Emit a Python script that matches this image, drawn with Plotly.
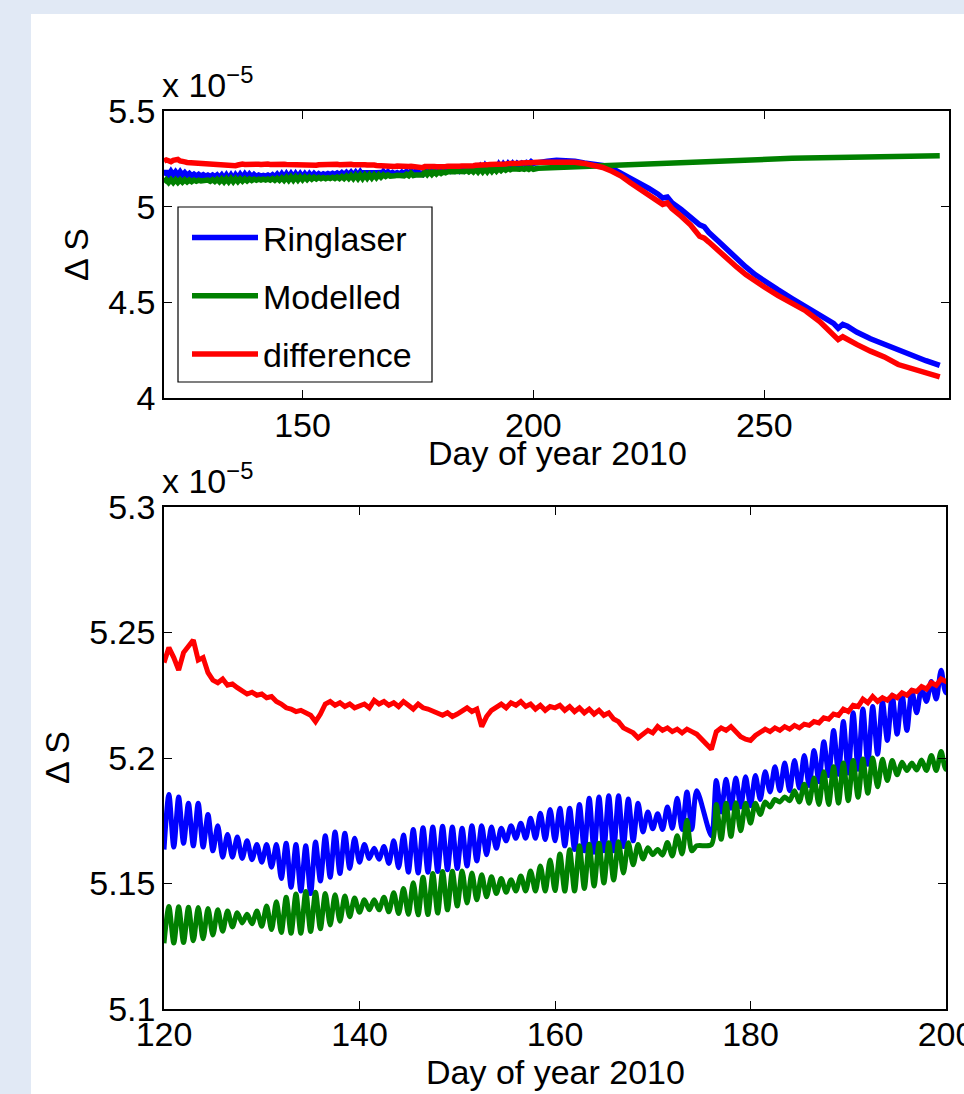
import plotly.graph_objects as go

# ---------------- data (values in units of 1e-5) ----------------
SCALE_EXP = -5
DAY_START = 120.0
DAY_STEP = 0.5   # half-day sampling of the detailed part (day 120 .. 200)

ringlaser_detail = [
    5.1635, 5.1855, 5.1645, 5.1845, 5.1660, 5.1820, 5.1650, 5.1820, 5.1645, 5.1775,
    5.1630, 5.1730, 5.1605, 5.1695, 5.1605, 5.1685, 5.1600, 5.1670, 5.1595, 5.1655,
    5.1585, 5.1655, 5.1565, 5.1655, 5.1520, 5.1660, 5.1485, 5.1655, 5.1470, 5.1650,
    5.1460, 5.1665, 5.1510, 5.1690, 5.1525, 5.1705, 5.1540, 5.1700, 5.1560, 5.1680,
    5.1585, 5.1655, 5.1600, 5.1640, 5.1597, 5.1647, 5.1580, 5.1670, 5.1563, 5.1693,
    5.1545, 5.1715, 5.1542, 5.1722, 5.1545, 5.1725, 5.1548, 5.1728, 5.1555, 5.1725,
    5.1560, 5.1720, 5.1570, 5.1730, 5.1590, 5.1730, 5.1615, 5.1725, 5.1640, 5.1720,
    5.1670, 5.1730, 5.1680, 5.1740, 5.1680, 5.1760, 5.1680, 5.1780, 5.1675, 5.1795,
    5.1670, 5.1800, 5.1650, 5.1800, 5.1635, 5.1815, 5.1630, 5.1840, 5.1625, 5.1845,
    5.1630, 5.1850, 5.1630, 5.1850, 5.1647, 5.1837, 5.1670, 5.1820, 5.1705, 5.1785,
    5.1718, 5.1778, 5.1715, 5.1805, 5.1720, 5.1840, 5.1715, 5.1865, 5.1715, 5.1870,
    None, None, 5.1690, 5.1910, 5.1785, 5.1915, 5.1800, 5.1920, 5.1805, 5.1925,
    5.1810, 5.1930, 5.1835, 5.1945, 5.1865, 5.1965, 5.1870, 5.1980, 5.1870, 5.1990,
    5.1880, 5.2010, 5.1890, 5.2030, 5.1905, 5.2065, 5.1930, 5.2110, 5.1935, 5.2145,
    5.1940, 5.2180, 5.1955, 5.2195, 5.1975, 5.2205, 5.2015, 5.2225, 5.2070, 5.2250,
    5.2095, 5.2255, 5.2110, 5.2270, 5.2180, 5.2280, 5.2225, 5.2305, 5.2235, 5.2350,
    5.2260,
]

modelled_detail = [
    5.1262, 5.1408, 5.1263, 5.1407, 5.1265, 5.1405, 5.1272, 5.1404, 5.1280, 5.1400,
    5.1295, 5.1395, 5.1310, 5.1390, 5.1327, 5.1383, 5.1343, 5.1377, 5.1340, 5.1390,
    5.1330, 5.1410, 5.1317, 5.1427, 5.1305, 5.1445, 5.1302, 5.1458, 5.1302, 5.1468,
    5.1309, 5.1465, 5.1320, 5.1460, 5.1335, 5.1455, 5.1350, 5.1450, 5.1368, 5.1442,
    5.1385, 5.1435, 5.1395, 5.1435, 5.1395, 5.1445, 5.1387, 5.1463, 5.1380, 5.1480,
    5.1377, 5.1503, 5.1375, 5.1525, 5.1376, 5.1540, 5.1382, 5.1548, 5.1395, 5.1549,
    5.1410, 5.1550, 5.1422, 5.1542, 5.1435, 5.1535, 5.1447, 5.1527, 5.1460, 5.1520,
    5.1465, 5.1515, 5.1470, 5.1530, 5.1470, 5.1550, 5.1470, 5.1570, 5.1470, 5.1594,
    5.1472, 5.1618, 5.1470, 5.1634, 5.1470, 5.1650, 5.1480, 5.1656, 5.1490, 5.1660,
    5.1502, 5.1662, 5.1514, 5.1666, 5.1542, 5.1662, 5.1575, 5.1655, 5.1598, 5.1642,
    5.1615, 5.1635, 5.1613, 5.1663, 5.1610, 5.1690, 5.1618, 5.1752, 5.1630, 5.1650,
    None, None, 5.1655, 5.1815, 5.1676, 5.1820, 5.1688, 5.1822, 5.1710, 5.1820,
    5.1740, 5.1820, 5.1775, 5.1825, 5.1805, 5.1835, 5.1825, 5.1845, 5.1830, 5.1870,
    5.1825, 5.1895, 5.1820, 5.1920, 5.1815, 5.1945, 5.1815, 5.1965, 5.1820, 5.1980,
    5.1830, 5.1990, 5.1844, 5.1996, 5.1860, 5.2000, 5.1885, 5.1995, 5.1910, 5.1990,
    5.1933, 5.1983, 5.1950, 5.1980, 5.1952, 5.1992, 5.1950, 5.2010, 5.1950, 5.2026,
    5.1955,
]

difference_detail = [
    5.2380, 5.2440, 5.2400, 5.2350, 5.2420, 5.2445, 5.2470, 5.2390, 5.2400, 5.2340,
    5.2310, 5.2300, 5.2315, 5.2290, 5.2295, 5.2280, 5.2270, 5.2255, 5.2262, 5.2250,
    5.2255, 5.2240, 5.2245, 5.2225, 5.2215, 5.2200, 5.2195, 5.2185, 5.2190, 5.2180,
    5.2170, 5.2145, 5.2175, 5.2215, 5.2225, 5.2210, 5.2220, 5.2205, 5.2215, 5.2200,
    5.2205, 5.2215, 5.2200, 5.2230, 5.2215, 5.2225, 5.2210, 5.2220, 5.2205, 5.2225,
    5.2210, 5.2195, 5.2215, 5.2200, 5.2195, 5.2185, 5.2180, 5.2170, 5.2180, 5.2165,
    5.2175, 5.2190, 5.2200, 5.2185, 5.2195, 5.2125, 5.2165, 5.2190, 5.2200, 5.2215,
    5.2200, 5.2220, 5.2210, 5.2225, 5.2205, 5.2215, 5.2195, 5.2210, 5.2190, 5.2205,
    5.2200, 5.2210, 5.2190, 5.2205, 5.2185, 5.2200, 5.2180, 5.2195, 5.2175, 5.2190,
    5.2170, 5.2180, 5.2155, 5.2145, 5.2120, 5.2110, 5.2100, 5.2080, 5.2095, 5.2110,
    5.2100, 5.2125, 5.2110, 5.2120, 5.2105, 5.2115, 5.2100, 5.2115, 5.2105, 5.2095,
    None, None, 5.2035, 5.2105, 5.2120, 5.2110, 5.2125, 5.2105, 5.2085, 5.2075,
    5.2070, 5.2090, 5.2105, 5.2115, 5.2105, 5.2120, 5.2110, 5.2125, 5.2115, 5.2130,
    5.2120, 5.2135, 5.2130, 5.2145, 5.2140, 5.2160, 5.2155, 5.2175, 5.2170, 5.2195,
    5.2185, 5.2210, 5.2205, 5.2235, 5.2220, 5.2245, 5.2225, 5.2240, 5.2230, 5.2250,
    5.2240, 5.2260, 5.2250, 5.2270, 5.2265, 5.2285, 5.2275, 5.2300, 5.2290, 5.2315,
    5.2305,
]

# coarser part after day 200
late_days = [201, 203, 205, 207, 209, 211, 213, 215, 217, 219, 221, 223, 225, 227,
             228, 229, 230, 232, 234, 236, 237, 238, 240, 242, 244, 246, 248, 250,
             253, 256, 259, 262, 264, 265, 266, 267, 268, 270, 273, 276, 279, 282,
             285, 288]
ringlaser_late = [5.232, 5.238, 5.242, 5.243, 5.238, 5.228, 5.222, 5.215, 5.200, 5.175,
                  5.150, 5.122, 5.095, 5.065, 5.045, 5.050, 5.020, 4.985, 4.945, 4.905,
                  4.895, 4.865, 4.820, 4.775, 4.725, 4.685, 4.645, 4.610, 4.565, 4.520,
                  4.478, 4.435, 4.405, 4.390, 4.365, 4.385, 4.375, 4.345, 4.310, 4.280,
                  4.250, 4.220, 4.195, 4.170]
modelled_late = [5.2005, 5.2025, 5.2045, 5.2070, 5.2095, 5.2120, 5.2140, 5.2160, 5.2185,
                 5.2210, 5.2230, 5.2255, 5.2280, 5.2300, 5.2310, 5.2320, 5.2330, 5.2350,
                 5.2370, 5.2390, 5.2395, 5.2405, 5.2420, 5.2435, 5.2450, 5.2465, 5.2480,
                 5.2490, 5.2510, 5.2525, 5.2545, 5.2560, 5.2570, 5.2575, 5.2580, 5.2585,
                 5.2590, 5.2595, 5.2610, 5.2620, 5.2630, 5.2640, 5.2650, 5.2655]
difference_late = [5.232, 5.232, 5.233, 5.234, 5.232, 5.226, 5.218, 5.205, 5.185, 5.160,
                   5.125, 5.095, 5.065, 5.035, 5.012, 5.020, 4.990, 4.950, 4.905, 4.845,
                   4.835, 4.815, 4.770, 4.725, 4.685, 4.645, 4.610, 4.580, 4.535, 4.495,
                   4.455, 4.400, 4.355, 4.335, 4.305, 4.320, 4.305, 4.280, 4.245, 4.215,
                   4.175, 4.155, 4.132, 4.110]

series_names = ["Ringlaser", "Modelled", "difference"]
series_colors = ["#0000ff", "#008000", "#ff0000"]
series_shapes = ["spline", "spline", "linear"]   # line shape in the detailed panel

top_xticks = [150, 200, 250]
top_yticks = [4, 4.5, 5, 5.5]
top_yticklabels = ["4", "4.5", "5", "5.5"]
bot_xticks = [120, 140, 160, 180, 200]
bot_yticks = [5.1, 5.15, 5.2, 5.25, 5.3]
bot_yticklabels = ["5.1", "5.15", "5.2", "5.25", "5.3"]
x_title = "Day of year 2010"
y_title = "\u0394 S"

# ---------------- build ----------------
detail_days = [DAY_START + DAY_STEP * i for i in range(len(ringlaser_detail))]
all_days = detail_days + late_days
full = {
    "Ringlaser": ringlaser_detail + ringlaser_late,
    "Modelled": modelled_detail + modelled_late,
    "difference": difference_detail + difference_late,
}

W, H = 964, 1094
FONT = "Liberation Sans, Arial, Helvetica, sans-serif"
FS = 34


def px(x):
    return x / W


def py(y):
    return 1 - y / H


fig = go.Figure()
for name, col in zip(series_names, series_colors):
    fig.add_trace(go.Scatter(x=all_days, y=full[name], mode="lines", name=name,
                             legendgroup=name, connectgaps=True,
                             line=dict(color=col, width=5.5),
                             xaxis="x", yaxis="y"))
for name, col, shp in zip(series_names, series_colors, series_shapes):
    line = dict(color=col, width=5, shape=shp)
    if shp == "spline":
        line["smoothing"] = 0.8
    fig.add_trace(go.Scatter(x=all_days, y=full[name], mode="lines", name=name,
                             showlegend=False, connectgaps=True, line=line,
                             xaxis="x2", yaxis="y2"))

axis_common = dict(showline=True, linecolor="black", linewidth=1.5, mirror="ticks",
                   ticks="inside", ticklen=8, tickwidth=1, tickcolor="black",
                   showgrid=False, zeroline=False, automargin=False,
                   ticklabeloverflow="allow",
                   tickfont=dict(family=FONT, size=FS, color="black"))

fig.update_layout(
    template="none",
    width=W, height=H, autosize=False,
    margin=dict(l=0, r=0, t=0, b=0, pad=0),
    paper_bgcolor="#e1e9f5",
    plot_bgcolor="white",
    font=dict(family=FONT, size=FS, color="black"),
    xaxis=dict(domain=[px(164), px(949)], range=[120, 290], anchor="y",
               tickvals=top_xticks, ticklabelstandoff=-4, **axis_common),
    yaxis=dict(domain=[py(398), py(111)], range=[4, 5.5], anchor="x",
               tickvals=top_yticks, ticktext=top_yticklabels, ticklabelstandoff=0,
               **axis_common),
    xaxis2=dict(domain=[px(164), px(946)], range=[120, 200], anchor="y2",
                tickvals=bot_xticks, ticklabelstandoff=-6, **axis_common),
    yaxis2=dict(domain=[py(1009), py(507)], range=[5.1, 5.3], anchor="x2",
                tickvals=bot_yticks, ticktext=bot_yticklabels, ticklabelstandoff=0,
                **axis_common),
    legend=dict(x=px(187), y=py(209), xanchor="left", yanchor="top",
                bgcolor="rgba(0,0,0,0)", borderwidth=0,
                font=dict(family=FONT, size=FS, color="black"),
                tracegroupgap=11, itemwidth=66),
    shapes=[
        dict(type="rect", xref="paper", yref="paper", x0=px(31), x1=1.01,
             y0=-0.01, y1=py(14), fillcolor="white", line=dict(width=0),
             layer="below"),
        # legend frame
        dict(type="rect", xref="paper", yref="paper", x0=px(178), x1=px(432),
             y0=py(382), y1=py(207), fillcolor="white",
             line=dict(color="black", width=1.2), layer="above"),
    ],
    annotations=[
        dict(text=x_title, x=px(557), y=py(453), xref="paper", yref="paper",
             showarrow=False, xanchor="center", yanchor="middle",
             font=dict(family=FONT, size=FS)),
        dict(text=x_title, x=px(555), y=py(1072), xref="paper", yref="paper",
             showarrow=False, xanchor="center", yanchor="middle",
             font=dict(family=FONT, size=FS)),
        dict(text=y_title, x=px(76), y=py(255), xref="paper", yref="paper",
             showarrow=False, textangle=-90, xanchor="center", yanchor="middle",
             font=dict(family=FONT, size=FS)),
        dict(text=y_title, x=px(57), y=py(758), xref="paper", yref="paper",
             showarrow=False, textangle=-90, xanchor="center", yanchor="middle",
             font=dict(family=FONT, size=FS)),
        dict(text="x 10<sup>\u2212%d</sup>" % (-SCALE_EXP), x=px(160), y=py(106),
             xref="paper", yref="paper", showarrow=False, xanchor="left",
             yanchor="bottom", font=dict(family=FONT, size=FS)),
        dict(text="x 10<sup>\u2212%d</sup>" % (-SCALE_EXP), x=px(160), y=py(502),
             xref="paper", yref="paper", showarrow=False, xanchor="left",
             yanchor="bottom", font=dict(family=FONT, size=FS)),
    ],
)

fig.write_html("out.html")
